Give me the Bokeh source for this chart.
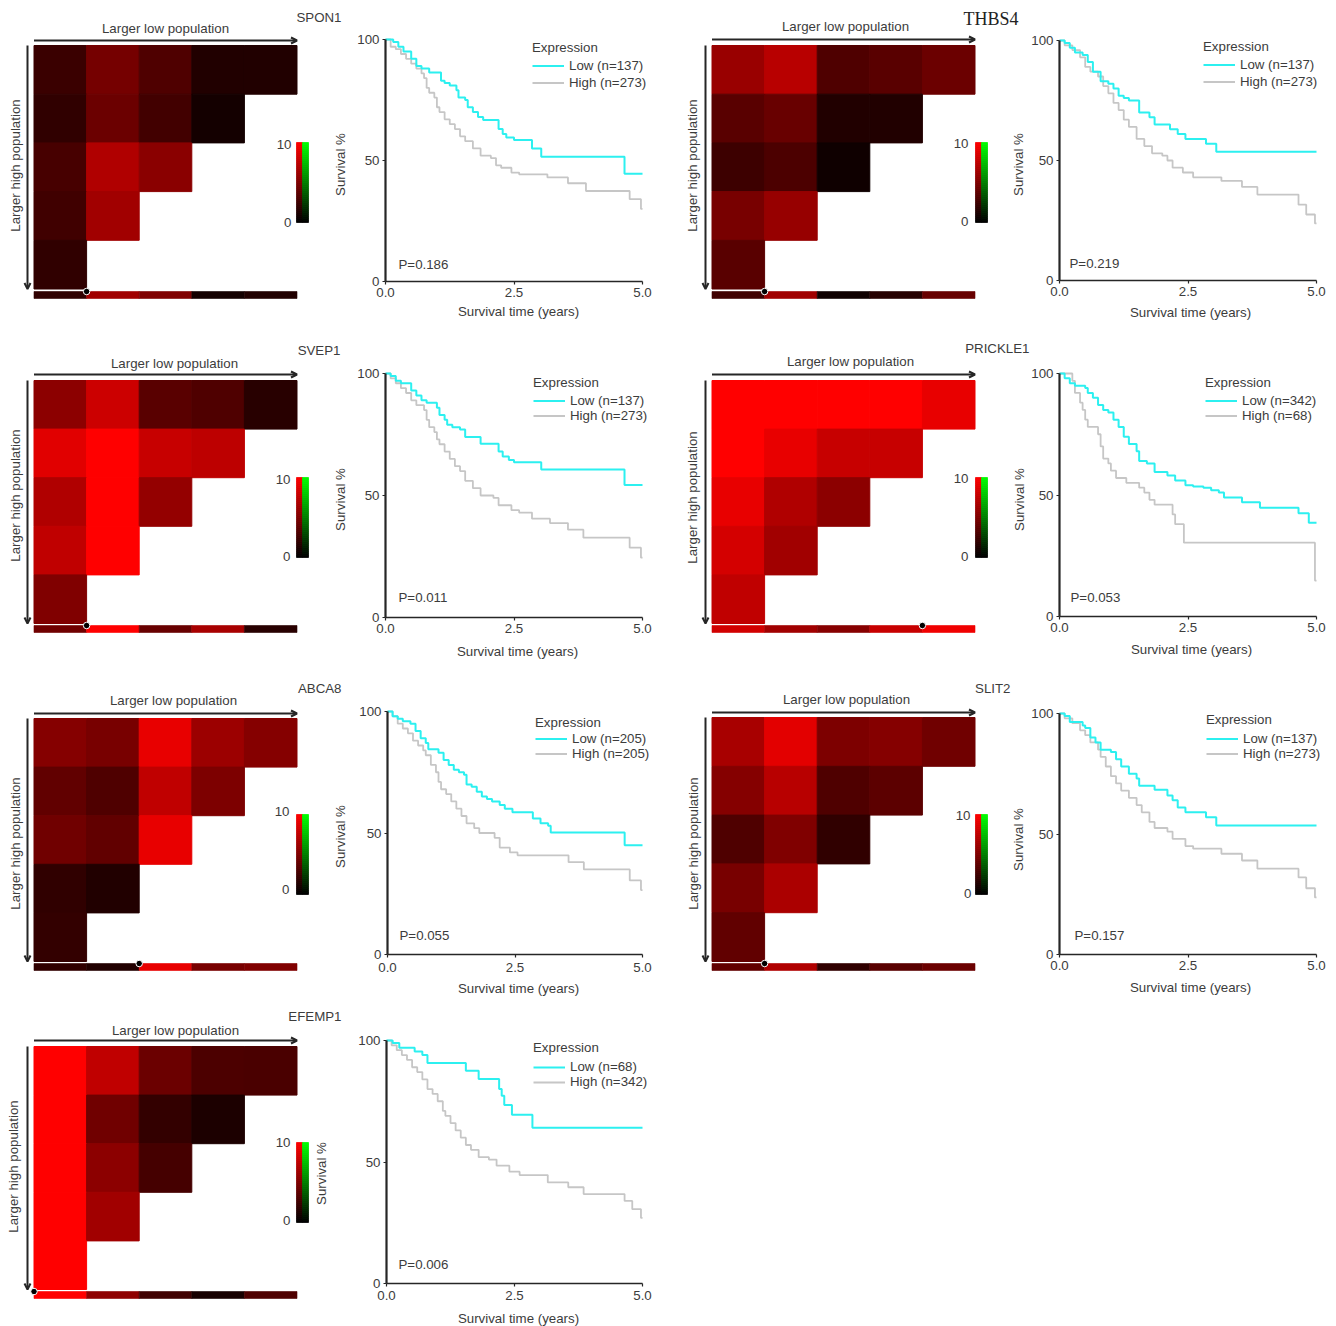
from math import pi
from bokeh.plotting import figure
from bokeh.embed import file_html
from bokeh.resources import INLINE
from bokeh.core.properties import value
from bokeh.models import (Range1d, LinearAxis, FixedTicker, LinearColorMapper, Arrow, OpenHead,
                          Legend, LegendItem, ColumnDataSource)

# ---------- data ----------
genes = ["SPON1", "THBS4", "SVEP1", "PRICKLE1", "ABCA8", "SLIT2", "EFEMP1"]
p_values = ["P=0.186", "P=0.219", "P=0.011", "P=0.053", "P=0.055", "P=0.157", "P=0.006"]
low_labels = ["Low (n=137)", "Low (n=137)", "Low (n=137)", "Low (n=342)", "Low (n=205)", "Low (n=137)", "Low (n=68)"]
high_labels = ["High (n=273)", "High (n=273)", "High (n=273)", "High (n=68)", "High (n=205)", "High (n=273)", "High (n=342)"]
x_tick_labels = {0: "0.0", 2.5: "2.5", 5: "5.0"}
y_ticks = [0, 50, 100]
cutoffs = [1, 1, 1, 4, 2, 1, 0]

SPON1_heat = [[2.3, 4.6, 3.1, 1.3, 1.3], [1.9, 4.2, 2.6, 0.8], [2.8, 6.9, 5.4], [2.5, 6.3], [1.9]]
SPON1_strip = [1.9, 6.3, 5.0, 0.8, 1.3]
THBS4_heat = [[6.0, 7.2, 3.1, 3.5, 4.2], [3.5, 4.1, 1.3, 1.3], [2.4, 3.0, 0.6], [4.7, 5.9], [3.5]]
THBS4_strip = [2.5, 6.3, 0.6, 1.5, 4.1]
SVEP1_heat = [[5.5, 8.0, 3.5, 3.1, 1.6], [8.8, 10, 7.8, 7.4], [6.9, 10, 5.8], [7.5, 10], [5.0]]
SVEP1_strip = [4.4, 10, 4.1, 6.6, 1.6]
PRICKLE1_heat = [[10, 10, 10, 10, 9.1], [10, 9.1, 7.8, 7.8], [9.1, 6.9, 5.5], [8.3, 6.3], [7.5]]
PRICKLE1_strip = [8.2, 6.3, 5.3, 7.8, 9.4]
ABCA8_heat = [[5.2, 4.7, 9.1, 6.1, 5.2], [3.8, 3.1, 7.5, 4.9], [4.4, 3.8, 9.1], [1.9, 1.3], [2.0]]
ABCA8_strip = [1.9, 1.3, 9.1, 4.7, 5.0]
SLIT2_heat = [[6.6, 8.9, 4.9, 5.2, 4.4], [5.2, 7.2, 3.1, 3.6], [3.1, 5.0, 1.9], [4.7, 6.7], [3.8]]
SLIT2_strip = [3.8, 6.9, 1.9, 3.5, 4.2]
EFEMP1_heat = [[10, 7.5, 4.2, 3.0, 2.9], [10, 4.4, 2.0, 1.1], [10, 5.5, 2.7], [10, 6.3], [10]]
EFEMP1_strip = [10, 5.6, 2.5, 0.9, 3.1]

SPON1_low_t = [0, 0.15, 0.25, 0.35, 0.5, 0.6, 0.7, 0.85, 1.08, 1.15, 1.25, 1.38, 1.42, 1.55, 1.6, 1.7, 1.8, 1.9, 2.2, 2.28, 2.35, 2.5, 2.85, 3.03, 4.65, 5]
SPON1_low_s = [100, 99, 97, 95, 92, 89, 88, 86.4, 83, 82, 81, 79, 76, 75, 72, 70, 68, 66.7, 63, 61, 59.5, 58.5, 55, 51.6, 44.5, 44.5]
SPON1_high_t = [0, 0.1, 0.2, 0.3, 0.4, 0.5, 0.6, 0.7, 0.75, 0.8, 0.85, 0.95, 1.0, 1.05, 1.15, 1.25, 1.35, 1.45, 1.55, 1.7, 1.85, 2.05, 2.15, 2.25, 2.45, 2.6, 3.15, 3.55, 3.9, 4.75, 4.97, 5]
SPON1_high_s = [100, 97, 96, 94, 92, 90, 88, 86, 84, 80, 78, 76, 72, 70, 67, 65, 63, 60, 58, 55, 52, 51, 48, 47, 45, 44.3, 43, 40.6, 37.4, 34, 30, 30]

THBS4_low_t = [0, 0.1, 0.2, 0.3, 0.45, 0.55, 0.65, 0.8, 0.95, 1.05, 1.15, 1.25, 1.35, 1.55, 1.75, 1.85, 2.15, 2.3, 2.45, 2.85, 3.05, 5]
THBS4_low_s = [100, 99, 97, 95, 94, 91, 87, 83, 82, 80, 77, 76, 75, 70, 68, 65, 63, 61, 59, 57, 53.6, 53.6]
THBS4_high_t = [0, 0.1, 0.25, 0.4, 0.5, 0.6, 0.75, 0.85, 0.95, 1.05, 1.15, 1.25, 1.35, 1.5, 1.65, 1.8, 2.0, 2.1, 2.2, 2.4, 2.6, 3.15, 3.55, 3.85, 4.65, 4.8, 4.97, 5]
THBS4_high_s = [100, 98, 96, 93, 89, 87, 85, 81, 78, 74, 71, 67, 64, 59, 56, 53, 52, 50, 47, 45, 43, 41.5, 39, 35.8, 31.6, 27.5, 23.8, 23.8]

SVEP1_low_t = [0, 0.1, 0.2, 0.3, 0.5, 0.6, 0.7, 0.8, 1.0, 1.05, 1.15, 1.2, 1.3, 1.45, 1.55, 1.85, 2.2, 2.28, 2.4, 2.5, 3.03, 4.65, 5]
SVEP1_low_s = [100, 99, 97, 96, 93, 91, 89, 88, 86, 83, 81, 79, 78, 77, 74, 71.2, 68, 66, 64.5, 63.6, 60.7, 54.3, 54.3]
SVEP1_high_t = [0, 0.1, 0.2, 0.3, 0.4, 0.5, 0.6, 0.75, 0.8, 0.85, 0.95, 1.0, 1.05, 1.15, 1.25, 1.35, 1.45, 1.55, 1.7, 1.85, 2.1, 2.2, 2.45, 2.6, 2.85, 3.2, 3.55, 3.85, 4.75, 4.97, 5]
SVEP1_high_s = [100, 98, 96, 94, 92, 89, 87, 85, 81, 78, 76, 73, 71, 68, 65, 62, 60, 56, 53, 50, 49, 46, 44, 43, 40.5, 38.7, 36, 32.7, 28.6, 24.5, 24.5]

PRICKLE1_low_t = [0, 0.1, 0.2, 0.3, 0.5, 0.55, 0.65, 0.75, 0.85, 0.95, 1.05, 1.15, 1.25, 1.35, 1.5, 1.55, 1.7, 1.85, 2.1, 2.25, 2.45, 2.6, 2.8, 2.95, 3.1, 3.2, 3.55, 3.9, 4.65, 4.85, 5]
PRICKLE1_low_s = [100, 98, 96, 95, 94, 92, 90, 87, 85, 84, 81, 78, 74, 71, 68, 64, 63, 59.5, 58, 56, 54, 53.5, 53, 52, 51, 49, 47, 44.8, 42.5, 38.6, 38.6]
PRICKLE1_high_t = [0, 0.25, 0.3, 0.4, 0.45, 0.5, 0.55, 0.75, 0.8, 0.85, 0.95, 1.0, 1.1, 1.3, 1.55, 1.65, 1.75, 1.85, 2.2, 2.25, 2.42, 4.97, 5]
PRICKLE1_high_s = [100, 97, 92, 88, 85, 81, 78, 75, 70, 65, 63, 60, 57, 55, 53, 51, 48, 46, 42, 38, 30.4, 14.8, 14.8]

ABCA8_low_t = [0, 0.1, 0.2, 0.3, 0.45, 0.55, 0.65, 0.75, 0.8, 1.0, 1.1, 1.2, 1.3, 1.4, 1.5, 1.55, 1.65, 1.75, 1.85, 1.95, 2.05, 2.2, 2.3, 2.45, 2.85, 3.0, 3.15, 3.2, 4.65, 5]
ABCA8_low_s = [100, 98, 97, 96, 95, 92, 89, 87, 84.5, 83, 80, 78, 76, 75, 74, 70, 69, 67, 65, 64, 63, 61.5, 60, 58.5, 56, 54, 53, 50.2, 45, 45]
ABCA8_high_t = [0, 0.1, 0.2, 0.3, 0.4, 0.5, 0.6, 0.7, 0.75, 0.85, 0.95, 1.0, 1.05, 1.15, 1.25, 1.35, 1.45, 1.55, 1.7, 1.8, 2.1, 2.2, 2.4, 2.55, 3.55, 3.85, 4.75, 4.97, 5]
ABCA8_high_s = [100, 98, 95, 93, 91, 88, 86, 84, 82, 78, 75, 71, 68, 66, 63, 60, 57, 54, 52, 50, 48, 44, 42, 40.8, 38, 35, 30.5, 26.5, 26.5]

SLIT2_low_t = [0, 0.1, 0.2, 0.45, 0.5, 0.6, 0.7, 0.8, 1.0, 1.1, 1.2, 1.35, 1.5, 1.55, 1.85, 2.1, 2.2, 2.3, 2.45, 2.85, 3.05, 5]
SLIT2_low_s = [100, 99, 96.5, 95, 94, 90, 88, 85, 84, 81, 78, 75, 73, 70, 68.4, 66, 64, 61, 59, 57, 53.5, 53.5]
SLIT2_high_t = [0, 0.1, 0.25, 0.4, 0.5, 0.6, 0.75, 0.8, 0.9, 1.0, 1.1, 1.2, 1.35, 1.5, 1.6, 1.75, 1.85, 2.1, 2.2, 2.45, 2.6, 3.15, 3.55, 3.85, 4.65, 4.8, 4.97, 5]
SLIT2_high_s = [100, 98, 96, 93, 91, 88, 85, 82, 78, 74, 71, 68, 65, 62, 59, 55, 52.5, 51, 48, 45, 43.9, 41.8, 39, 35.6, 32, 27.5, 23.7, 23.7]

EFEMP1_low_t = [0, 0.12, 0.25, 0.55, 0.7, 0.8, 1.55, 1.8, 2.2, 2.25, 2.3, 2.45, 2.85, 5]
EFEMP1_low_s = [100, 99, 97, 95.5, 94, 90.7, 87.6, 84.2, 80, 77.3, 73.5, 69.4, 64.1, 64.1]
EFEMP1_high_t = [0, 0.1, 0.2, 0.3, 0.4, 0.5, 0.6, 0.7, 0.8, 0.9, 1.0, 1.1, 1.15, 1.25, 1.35, 1.45, 1.55, 1.65, 1.8, 2.0, 2.15, 2.4, 2.6, 3.15, 3.55, 3.85, 4.65, 4.8, 4.97, 5]
EFEMP1_high_s = [100, 98, 96, 94, 92, 89, 87, 84, 80, 78, 75, 71, 69, 66, 63, 60, 57, 55, 52, 51, 48.5, 46, 44.6, 41.6, 39.6, 36.8, 34, 30.6, 27, 27]

heats = [SPON1_heat, THBS4_heat, SVEP1_heat, PRICKLE1_heat, ABCA8_heat, SLIT2_heat, EFEMP1_heat]
strips = [SPON1_strip, THBS4_strip, SVEP1_strip, PRICKLE1_strip, ABCA8_strip, SLIT2_strip, EFEMP1_strip]
lows = [(SPON1_low_t, SPON1_low_s), (THBS4_low_t, THBS4_low_s), (SVEP1_low_t, SVEP1_low_s), (PRICKLE1_low_t, PRICKLE1_low_s),
        (ABCA8_low_t, ABCA8_low_s), (SLIT2_low_t, SLIT2_low_s), (EFEMP1_low_t, EFEMP1_low_s)]
highs = [(SPON1_high_t, SPON1_high_s), (THBS4_high_t, THBS4_high_s), (SVEP1_high_t, SVEP1_high_s), (PRICKLE1_high_t, PRICKLE1_high_s),
         (ABCA8_high_t, ABCA8_high_s), (SLIT2_high_t, SLIT2_high_s), (EFEMP1_high_t, EFEMP1_high_s)]

# ---------- layout, in picture pixels ----------
L, R, T, B = 0, 1336, 0, 1326
HEAT = [
    dict(x0=33.5, x1=296.5, y0=45, y1=288.5, s0=291, s1=298, ay=40, tl=(165, 28), vx=27, sl=(15, 165), g=(341, 17, "right"), cb=(296, 142, 222), c10=(291, 144), c0=(291, 222), dy=291),
    dict(x0=711.5, x1=974.5, y0=45, y1=288.5, s0=291, s1=298, ay=39, tl=(845, 26), vx=705, sl=(692, 165), g=(1018, 18, "right"), cb=(975, 142, 222), c10=(968, 143), c0=(968, 221), dy=291),
    dict(x0=33.5, x1=296.5, y0=380, y1=623, s0=625, s1=632, ay=374, tl=(174, 363), vx=27, sl=(15, 495), g=(340, 350, "right"), cb=(296, 477, 557), c10=(290, 479), c0=(290, 556), dy=625),
    dict(x0=711.5, x1=974.5, y0=380, y1=623, s0=625, s1=632, ay=374, tl=(850, 361), vx=705, sl=(692, 497), g=(1029, 348, "right"), cb=(975, 477, 557), c10=(968, 478), c0=(968, 556), dy=625),
    dict(x0=33.5, x1=296.5, y0=718, y1=961, s0=963, s1=970, ay=713, tl=(173, 700), vx=27, sl=(15, 843), g=(341, 688, "right"), cb=(296, 814, 894), c10=(289, 811), c0=(289, 889), dy=963),
    dict(x0=711.5, x1=974.5, y0=717, y1=961, s0=963, s1=970, ay=712, tl=(846, 699), vx=705, sl=(693, 843), g=(1010, 688, "right"), cb=(975, 814, 894), c10=(970, 815), c0=(971, 893), dy=963),
    dict(x0=33.5, x1=296.5, y0=1046, y1=1289, s0=1291, s1=1298, ay=1040, tl=(175, 1030), vx=27, sl=(13, 1166), g=(341, 1016, "right"), cb=(296, 1142, 1222), c10=(290, 1142), c0=(290, 1220), dy=1291),
]
KM = [
    dict(x0=385, x1=642, yt=39, yb=281, yl=(340, 164), xl=(518, 311), pv=(398, 264), lx=532, ty=47, r=(65, 82), ts=3),
    dict(x0=1059, x1=1316, yt=40, yb=280, yl=(1018, 164), xl=(1190, 312), pv=(1069, 263), lx=1203, ty=46, r=(64, 81), ts=3),
    dict(x0=385, x1=642, yt=373, yb=617, yl=(340, 499), xl=(517, 651), pv=(398, 597), lx=533, ty=382, r=(400, 415), ts=3),
    dict(x0=1059, x1=1316, yt=373, yb=616, yl=(1019, 499), xl=(1191, 649), pv=(1070, 597), lx=1205, ty=382, r=(400, 415), ts=3),
    dict(x0=387, x1=642, yt=711, yb=954, yl=(340, 836), xl=(518, 988), pv=(399, 935), lx=535, ty=722, r=(738, 753), ts=5),
    dict(x0=1059, x1=1316, yt=713, yb=954, yl=(1018, 839), xl=(1190, 987), pv=(1074, 935), lx=1206, ty=719, r=(738, 753), ts=3),
    dict(x0=386, x1=642, yt=1040, yb=1283, yl=(321, 1173), xl=(518, 1318), pv=(398, 1264), lx=533, ty=1049, r=(1068, 1082), ts=4),
]

FONT = value("Liberation Sans")
FS = 13.3
TXT = "#3c3c3c"
CYAN = "#2cf0f0"
GRAY = "#c6c6c6"
DARK = "#262626"

p = figure(width=R - L, height=B - T, x_range=Range1d(L, R), y_range=Range1d(B, T),
           output_backend="svg", toolbar_location=None, x_axis_location=None, y_axis_location=None,
           min_border=0, outline_line_color=None, background_fill_color="white", border_fill_color="white")
p.grid.visible = False


def xrange_for(px0, px1, v0, v1):
    k = (v1 - v0) / (px1 - px0)
    return Range1d(start=v0 + (L - px0) * k, end=v0 + (R - px0) * k)


def yrange_for(px0, px1, v0, v1):
    k = (v1 - v0) / (px1 - px0)
    return Range1d(start=v0 + (B - px0) * k, end=v0 + (T - px0) * k)


def label(x, y, s, size=FS, align="left", angle=0.0, font=FONT, color=TXT):
    p.text(x=[x], y=[y], text=[s], text_font=font, text_font_size=f"{size}px", text_color=color,
           text_align=align, text_baseline="middle", angle=angle)


reds = ["#%02x0000" % i for i in range(256)]
greens = ["#00%02x00" % i for i in range(256)]
mapper = LinearColorMapper(palette=reds, low=0, high=10)
gmapper = LinearColorMapper(palette=greens, low=0, high=10)
bar_levels = [i * 0.25 for i in range(40)]

for i in range(7):
    h, k = HEAT[i], KM[i]
    hx, hy = f"hx{i}", f"hy{i}"
    p.extra_x_ranges[hx] = xrange_for(h["x0"], h["x1"], 0, 5)
    p.extra_y_ranges[hy] = yrange_for(h["y0"], h["y1"], 0, 5)
    # heat triangle
    lft, rgt, top, bot, val = [], [], [], [], []
    for r, row in enumerate(heats[i]):
        for c, v in enumerate(row):
            lft.append(c); rgt.append(c + 1); top.append(r); bot.append(r + 1); val.append(v)
    src = ColumnDataSource(dict(l=lft, r=rgt, t=top, b=bot, v=val))
    p.quad(left="l", right="r", top="t", bottom="b", source=src, x_range_name=hx, y_range_name=hy,
           fill_color={"field": "v", "transform": mapper}, line_color={"field": "v", "transform": mapper}, line_width=1)
    # strip below the triangle
    sc = list(range(5))
    ssrc = ColumnDataSource(dict(l=sc, r=[c + 1 for c in sc], v=strips[i],
                                 t=[h["s0"]] * 5, b=[h["s1"]] * 5))
    p.quad(left="l", right="r", top="t", bottom="b", source=ssrc, x_range_name=hx,
           fill_color={"field": "v", "transform": mapper}, line_color={"field": "v", "transform": mapper}, line_width=0.6)
    p.scatter(x=[cutoffs[i]], y=[h["dy"]], x_range_name=hx, size=6.5, marker="circle",
              fill_color="black", line_color="white", line_width=1)
    # arrows and heat labels
    p.add_layout(Arrow(end=OpenHead(size=6, line_width=2, line_color=DARK), x_start=h["x0"], y_start=h["ay"],
                       x_end=h["x1"], y_end=h["ay"], line_width=2, line_color=DARK))
    p.add_layout(Arrow(end=OpenHead(size=6, line_width=2, line_color=DARK), x_start=h["vx"], y_start=h["y0"],
                       x_end=h["vx"], y_end=h["y1"], line_width=2, line_color=DARK))
    label(h["tl"][0], h["tl"][1], "Larger low population", align="center")
    label(h["sl"][0], h["sl"][1], "Larger high population", align="center", angle=pi / 2)
    gx, gy, ga = h["g"]
    if genes[i] == "THBS4":
        label(gx, gy, genes[i], size=18, align=ga, font=value("Liberation Serif"), color="#222222")
    else:
        label(gx, gy, genes[i], align=ga)
    # colour bar
    cx0, cy0, cy1 = h["cb"]
    cy = f"cy{i}"
    p.extra_y_ranges[cy] = yrange_for(cy1, cy0, 0, 10)
    cbsrc = ColumnDataSource(dict(v=bar_levels, b=bar_levels, t=[b + 0.25 for b in bar_levels],
                                  x0=[cx0] * 40, x1=[cx0 + 6] * 40, x2=[cx0 + 12] * 40))
    p.quad(left="x0", right="x1", bottom="b", top="t", source=cbsrc, y_range_name=cy,
           fill_color={"field": "v", "transform": mapper}, line_color={"field": "v", "transform": mapper}, line_width=0.8)
    p.quad(left="x1", right="x2", bottom="b", top="t", source=cbsrc, y_range_name=cy,
           fill_color={"field": "v", "transform": gmapper}, line_color={"field": "v", "transform": gmapper}, line_width=0.8)
    label(h["c10"][0], h["c10"][1], "10", align="right")
    label(h["c0"][0], h["c0"][1], "0", align="right")

    # survival plot
    kx, ky = f"kx{i}", f"ky{i}"
    p.extra_x_ranges[kx] = xrange_for(k["x0"], k["x1"], 0, 5)
    p.extra_y_ranges[ky] = yrange_for(k["yb"], k["yt"], 0, 100)
    r_high = p.step(x=highs[i][0], y=highs[i][1], mode="after", x_range_name=kx, y_range_name=ky,
                    line_color=GRAY, line_width=1.8)
    r_low = p.step(x=lows[i][0], y=lows[i][1], mode="after", x_range_name=kx, y_range_name=ky,
                   line_color=CYAN, line_width=2)
    xa = LinearAxis(x_range_name=kx, y_range_name=ky, fixed_location=0, bounds=(0, 5),
                    ticker=FixedTicker(ticks=list(x_tick_labels)), major_label_overrides=x_tick_labels)
    ya = LinearAxis(x_range_name=kx, y_range_name=ky, fixed_location=0, bounds=(0, 100),
                    ticker=FixedTicker(ticks=y_ticks))
    for ax, w in ((xa, 1.6), (ya, 2.2)):
        ax.axis_line_color = DARK
        ax.axis_line_width = w
        ax.major_tick_line_color = DARK
        ax.major_tick_line_width = 1.2
        ax.major_tick_in = 0
        ax.major_tick_out = 3
        ax.minor_tick_line_color = None
        ax.major_label_text_font = "Liberation Sans"
        ax.major_label_text_font_size = f"{FS}px"
        ax.major_label_text_color = TXT
    xa.major_label_standoff = k["ts"]
    ya.major_label_standoff = 3
    p.add_layout(xa, "below")
    p.add_layout(ya, "left")
    label(k["yl"][0], k["yl"][1], "Survival %", align="center", angle=pi / 2)
    label(k["xl"][0], k["xl"][1], "Survival time (years)", align="center")
    label(k["pv"][0], k["pv"][1], p_values[i])
    # legend
    gap = k["r"][1] - k["r"][0]
    leg = Legend(items=[LegendItem(label=low_labels[i], renderers=[r_low]),
                        LegendItem(label=high_labels[i], renderers=[r_high])],
                 title="Expression", title_text_font="Liberation Sans", title_text_font_size=f"{FS}px",
                 title_text_font_style="normal", title_text_color=TXT,
                 title_standoff=max(0, k["r"][0] - k["ty"] - gap // 2 - 8),
                 label_text_font="Liberation Sans", label_text_font_size=f"{FS}px", label_text_color=TXT,
                 location=(k["lx"] - L, B - (k["r"][1] + gap / 2)),
                 background_fill_alpha=0, border_line_color=None, padding=0, margin=0, spacing=0,
                 glyph_width=32, glyph_height=gap, label_height=gap, label_standoff=5,
                 click_policy="none")
    p.add_layout(leg)

open("out.html", "w").write(file_html(p, INLINE))
